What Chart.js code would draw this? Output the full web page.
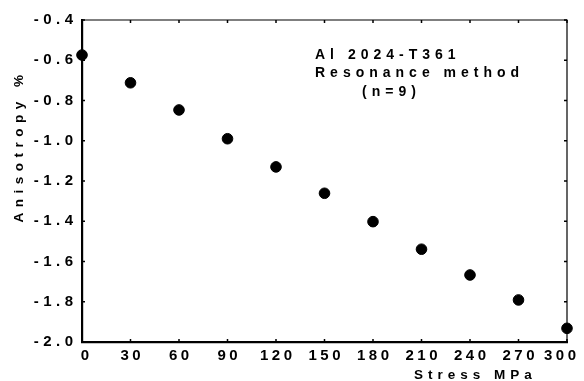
<!DOCTYPE html>
<html>
<head>
<meta charset="utf-8">
<script src="https://cdn.jsdelivr.net/npm/chart.js@4/dist/chart.umd.min.js"></script>
<style>
  html, body { margin: 0; padding: 0; background: #fff; }
  #wrap { width: 584px; height: 381px; }
</style>
</head>
<body>
<div id="wrap"><canvas id="myChart" width="584" height="381"></canvas></div>
<script>
// data
const stress = [0, 30, 60, 90, 120, 150, 180, 210, 240, 270, 300]
const anisotropy = [-0.574, -0.712, -0.847, -0.990, -1.130, -1.261, -1.402, -1.539, -1.667, -1.791, -1.932]
const xTicks = [0, 30, 60, 90, 120, 150, 180, 210, 240, 270, 300]
const yTicks = [-0.4, -0.6, -0.8, -1.0, -1.2, -1.4, -1.6, -1.8, -2.0]
const noteLines = ['Al 2024-T361', 'Resonance method', '(n=9)']

const FONT = '"Liberation Sans", Arial, sans-serif'

const framePlugin = {
  id: 'frame',
  beforeDraw(chart) {
    chart.ctx.letterSpacing = '0px'
  },
  afterDraw(chart) {
    const ctx = chart.ctx
    const a = chart.chartArea
    const xs = chart.scales.x
    const ys = chart.scales.y
    ctx.save()
    ctx.strokeStyle = '#000'
    // top and right frame lines
    ctx.lineWidth = 1.2
    ctx.beginPath()
    ctx.moveTo(a.left, a.top); ctx.lineTo(a.right, a.top); ctx.lineTo(a.right, a.bottom)
    ctx.stroke()
    // inward ticks on all four sides
    ctx.lineWidth = 1.5
    ctx.beginPath()
    xTicks.forEach(v => {
      const px = xs.getPixelForValue(v)
      ctx.moveTo(px, a.bottom); ctx.lineTo(px, a.bottom - 3)
      ctx.moveTo(px, a.top); ctx.lineTo(px, a.top + 3)
    })
    yTicks.forEach(v => {
      const py = ys.getPixelForValue(v)
      ctx.moveTo(a.left, py); ctx.lineTo(a.left + 3, py)
      ctx.moveTo(a.right, py); ctx.lineTo(a.right - 3, py)
    })
    ctx.stroke()

    // tick labels, spaced out like the old plotter font
    ctx.fillStyle = '#000'
    ctx.font = 'bold 15px ' + FONT
    ctx.textBaseline = 'middle'
    ctx.letterSpacing = '3.5px'
    ctx.textAlign = 'center'
    xTicks.forEach((v, i) => {
      let nudge = 1.75
      if (i === 0) nudge += 3
      if (i === xTicks.length - 1) nudge -= 7
      ctx.fillText(String(v), xs.getPixelForValue(v) + nudge, 356)
    })
    ctx.letterSpacing = '4.5px'
    ctx.textAlign = 'right'
    yTicks.forEach(v => {
      ctx.fillText('-' + Math.abs(v).toFixed(1), a.left - 4.5, ys.getPixelForValue(v))
    })

    ctx.letterSpacing = '5px'
    ctx.font = 'bold 14px ' + FONT
    ctx.textAlign = 'left'
    ctx.fillText(noteLines[0], 315, 55)
    ctx.fillText(noteLines[1], 315, 73)
    ctx.fillText(noteLines[2], 362, 92)

    // axis titles
    ctx.font = 'bold 13.5px ' + FONT
    ctx.letterSpacing = '5px'
    ctx.fillText('Stress MPa', 414, 375)
    ctx.save()
    ctx.translate(19, 146)
    ctx.rotate(-Math.PI / 2)
    ctx.textAlign = 'center'
    ctx.letterSpacing = '5.5px'
    ctx.fillText('Anisotropy %', 0, 0)
    ctx.restore()
    ctx.restore()
  }
}

const ctx = document.getElementById('myChart').getContext('2d')
const myChart = new Chart(ctx, {
  type: 'scatter',
  data: {
    datasets: [{
      data: stress.map((s, i) => ({ x: s, y: anisotropy[i] })),
      backgroundColor: '#000',
      borderColor: '#000',
      pointRadius: 5.3,
      clip: false
    }]
  },
  options: {
    responsive: false,
    animation: false,
    layout: { padding: { top: 20, right: 17, left: 0, bottom: 0 } },
    plugins: { legend: { display: false }, tooltip: { enabled: false } },
    scales: {
      x: {
        type: 'linear',
        min: 0,
        max: 300,
        afterBuildTicks: (scale) => { scale.ticks = xTicks.map(v => ({ value: v })) },
        afterFit: (scale) => { scale.height = 39 },
        grid: { display: false, drawTicks: false },
        border: { display: true, color: '#000', width: 2.2 },
        ticks: { display: false }
      },
      y: {
        type: 'linear',
        min: -2.0,
        max: -0.4,
        afterBuildTicks: (scale) => { scale.ticks = yTicks.map(v => ({ value: v })) },
        afterFit: (scale) => { scale.width = 82 },
        grid: { display: false, drawTicks: false },
        border: { display: true, color: '#000', width: 2.2 },
        ticks: { display: false }
      }
    }
  },
  plugins: [framePlugin]
})
</script>
</body>
</html>
